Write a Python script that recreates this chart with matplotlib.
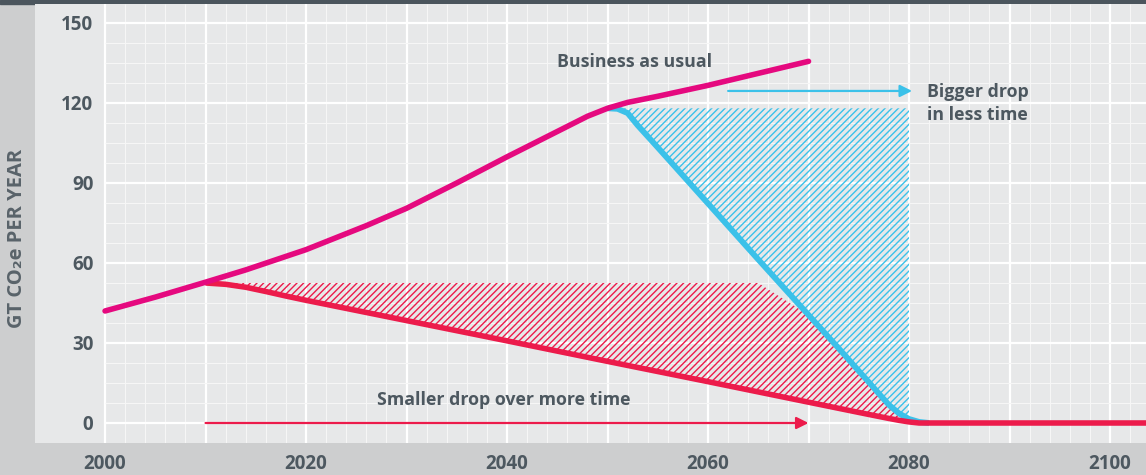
import numpy as np
import matplotlib
matplotlib.use("Agg")
import matplotlib.pyplot as plt
from matplotlib.patches import Rectangle

# emissions pathways, Gt CO2e per year
bau_years = [2000, 2005, 2010, 2014, 2020, 2026, 2030, 2035, 2040, 2045, 2048, 2050, 2052, 2055, 2060, 2065, 2070]
bau_values = [42, 47.2, 52.8, 57.4, 65, 74, 80.5, 90, 99.8, 109.3, 115, 118, 120.2, 122.5, 126.6, 131.1, 135.6]

early_years = [2010, 2012, 2014, 2016, 2018, 2020, 2030, 2040, 2050, 2060, 2070, 2076, 2078, 2079, 2080, 2081, 2104]
early_values = [52.5, 52.0, 50.9, 49.3, 47.6, 46.0, 38.4, 30.8, 23.1, 15.5, 7.8, 3.2, 1.7, 1.0, 0.4, 0, 0]

late_years = [2050, 2051, 2052, 2053, 2055, 2060, 2065, 2070, 2073, 2075, 2076, 2077, 2078, 2079, 2080, 2081, 2082]
late_values = [118, 117.8, 116.2, 111.6, 103.3, 82.3, 61.3, 40.5, 28, 19.5, 15.3, 11, 6.8, 3.6, 1.5, 0.4, 0]

early_cap = 52.5
late_cap = 118
hatch_end = 2080

early_arrow = [(2010, 0), (2070, 0)]
late_arrow = [(2062, 124.5), (2080.3, 124.5)]

x_ticks = [2000, 2020, 2040, 2060, 2080, 2100]
y_ticks = [0, 30, 60, 90, 120, 150]

MAGENTA = "#e5097f"
RED = "#ec1b4b"
BLUE = "#3bc1e9"
TEXT = "#4d5860"
PANEL = "#e7e8e9"
BAND = "#cdcecf"

plt.rcParams["font.family"] = ["Open Sans", "DejaVu Sans"]
plt.rcParams["hatch.linewidth"] = 1.0

W, H = 1146, 475
fig = plt.figure(figsize=(W / 100, H / 100), dpi=100, facecolor=BAND)
ax = fig.add_axes([35 / W, 32 / H, (W - 35) / W, 439 / H])
ax.set_facecolor(PANEL)
ax.set_xlim(1993.03, 2103.58)
ax.set_ylim(-7.5, 157.1)
for s in ax.spines.values():
    s.set_visible(False)

# top strip
fig.add_artist(Rectangle((0, 1 - 4 / H), 1, 4 / H, transform=fig.transFigure,
                         color="#4b555d", zorder=0))

# grid: fine every 2 years / 7.5 units, heavier every 10 years / 30 units
for yr in np.arange(2000, 2104, 2):
    major = yr % 10 == 0
    ax.vlines(yr, -7.5, 157.1, color="white" if major else "#f6f6f6",
              lw=1.6 if major else 0.8, zorder=1)
for v in np.arange(0, 157, 7.5):
    major = v % 30 == 0
    ax.hlines(v, 2000, 2103.58, color="white" if major else "#f6f6f6",
              lw=1.6 if major else 0.8, zorder=1)

# hatched gaps between pathways
ly = np.array(late_years, float)
lv = np.array(late_values, float)
keep = ly <= hatch_end
ax.fill_between(ly[keep], lv[keep], late_cap, facecolor="none", edgecolor=BLUE,
                hatch="/////", linewidth=0, zorder=2)

ey = np.array(early_years, float)
ev = np.array(early_values, float)
grid_x = np.union1d(ey[ey <= 2081], ly)
grid_x = grid_x[(grid_x >= 2010) & (grid_x <= 2081)]
low = np.interp(grid_x, ey, ev)
top = np.minimum(early_cap, np.interp(grid_x, ly, lv, left=np.inf))
top = np.maximum(top, low)
ax.fill_between(grid_x, low, top, facecolor="none", edgecolor=RED,
                hatch="/////", linewidth=0, zorder=2)

# pathways
ax.plot(late_years, late_values, color=BLUE, lw=4.2, solid_capstyle="butt", zorder=3)
ax.plot(early_years, early_values, color=RED, lw=4.0, solid_capstyle="butt", zorder=4)
ax.plot(bau_years, bau_values, color=MAGENTA, lw=4.0, solid_capstyle="round", zorder=5)

for (x0, y0), (x1, y1), c in [(early_arrow[0], early_arrow[1], RED),
                                (late_arrow[0], late_arrow[1], BLUE)]:
    ax.annotate("", xy=(x1, y1), xytext=(x0, y0), zorder=6,
                arrowprops=dict(arrowstyle="-|>", color=c, lw=1.6,
                                mutation_scale=18, shrinkA=0, shrinkB=0))

font = dict(color=TEXT, fontsize=12.8, fontweight="bold", zorder=7)
ax.text(2044.95, 133.3, "Business as usual", va="baseline", ha="left", **font)
ax.text(2081.75, 122.1, "Bigger drop", va="baseline", ha="left", **font)
ax.text(2081.75, 113.5, "in less time", va="baseline", ha="left", **font)
ax.text(2027.02, 6.6, "Smaller drop over more time", va="baseline", ha="left", **font)

ax.set_xticks(x_ticks, labels=[str(t) for t in x_ticks])
ax.set_yticks(y_ticks, labels=[str(t) for t in y_ticks])
ax.tick_params(axis="both", length=0, labelsize=13.5, labelcolor=TEXT)
ax.tick_params(axis="x", pad=8.0)
ax.tick_params(axis="y", pad=-42)
for lbl in ax.get_xticklabels() + ax.get_yticklabels():
    lbl.set_fontweight("bold")

fig.text(17.5 / W, 1 - 238.5 / H, "GT CO₂e PER YEAR", rotation=90, ha="center",
         va="center", color="#59636a", fontsize=14.5, fontweight="bold")

fig.savefig("out.png", dpi=100, facecolor=BAND)
